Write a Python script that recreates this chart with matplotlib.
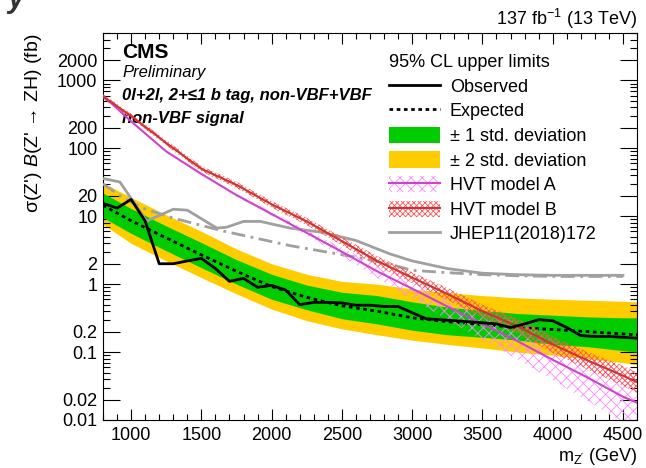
import matplotlib
matplotlib.use('Agg')
import matplotlib.pyplot as plt
from matplotlib.lines import Line2D
from matplotlib.patches import Patch
from matplotlib.ticker import FixedLocator, FuncFormatter, MultipleLocator, NullFormatter

plt.rcParams['font.family'] = ['Liberation Sans', 'DejaVu Sans']
plt.rcParams['mathtext.fontset'] = 'custom'
plt.rcParams['mathtext.rm'] = 'Liberation Sans'
plt.rcParams['mathtext.it'] = 'Liberation Sans:italic'
plt.rcParams['mathtext.bf'] = 'Liberation Sans:bold'
plt.rcParams['hatch.linewidth'] = 0.6

# observed limit (fb) vs m_Z' (GeV)
obs_mass = [800, 900, 1000, 1100, 1200, 1300, 1400, 1500, 1600, 1700, 1800, 1900, 2000, 2100,
            2200, 2300, 2400, 2500, 2600, 2700, 2800, 2900, 3000, 3100, 3200, 3300, 3400, 3500,
            3600, 3700, 3800, 3900, 4000, 4100, 4200, 4300, 4400, 4500, 4600]
obs_xs = [15.5, 13.2, 17.7, 8.5, 2.0, 2.0, 2.2, 2.4, 1.7, 1.1, 1.22, 0.9, 0.96, 0.82,
          0.50, 0.54, 0.54, 0.53, 0.49, 0.49, 0.47, 0.47, 0.38, 0.31, 0.30, 0.29, 0.28, 0.27,
          0.26, 0.23, 0.26, 0.30, 0.29, 0.23, 0.175, 0.17, 0.17, 0.165, 0.16]

# expected limit and bands, HVT predictions
grid_mass = [800, 1000, 1250, 1500, 1750, 2000, 2250, 2500, 2750, 3000, 3250, 3500, 3750,
             4000, 4250, 4500, 4600]
exp_xs = [14.5, 8.6, 4.8, 2.7, 1.55, 0.92, 0.64, 0.48, 0.40, 0.32, 0.28, 0.255, 0.23,
          0.215, 0.20, 0.185, 0.18]
g_lo = [9.6, 5.6, 3.1, 1.75, 1.0, 0.6, 0.42, 0.31, 0.26, 0.21, 0.18, 0.165, 0.15,
        0.13, 0.12, 0.105, 0.10]
g_hi = [22, 13, 7.2, 4.1, 2.3, 1.4, 0.97, 0.76, 0.68, 0.55, 0.46, 0.41, 0.37,
        0.35, 0.33, 0.32, 0.32]
y_lo = [7.6, 4.0, 2.2, 1.25, 0.72, 0.43, 0.29, 0.22, 0.18, 0.15, 0.13, 0.115, 0.10,
        0.09, 0.08, 0.07, 0.065]
y_hi = [31, 19, 10.5, 6.0, 3.3, 2.0, 1.4, 1.1, 1.0, 0.85, 0.75, 0.68, 0.63,
        0.60, 0.58, 0.56, 0.55]

hvtA = [600, 250, 90, 42, 20.5, 10.8, 5.7, 3.0, 1.55, 0.86, 0.47, 0.26, 0.145,
        0.077, 0.042, 0.022, 0.018]
hvtA_hi = [612, 255, 92.7, 43.7, 21.5, 11.6, 6.3, 3.45, 1.94, 1.2, 0.73, 0.44, 0.27,
           0.154, 0.092, 0.053, 0.045]
hvtA_lo = [588, 245, 87.4, 40.4, 19.5, 10.1, 5.2, 2.6, 1.24, 0.61, 0.30, 0.153, 0.078,
           0.0385, 0.019, 0.0092, 0.0072]
hvtB = [580, 300, 120, 50, 29, 15, 8.4, 4.3, 2.2, 1.25, 0.72, 0.40, 0.24,
        0.13, 0.075, 0.045, 0.036]
hvtB_hi = [626, 324, 131, 55, 32.2, 16.8, 9.5, 4.95, 2.6, 1.5, 0.88, 0.50, 0.31,
           0.17, 0.10, 0.063, 0.051]
hvtB_lo = [537, 278, 110, 45.5, 26.1, 13.4, 7.4, 3.74, 1.86, 1.04, 0.59, 0.32, 0.19,
           0.098, 0.055, 0.032, 0.025]

# previous result JHEP11(2018)172
old_obs_mass = [800, 920, 1110, 1300, 1400, 1610, 1680, 1800, 1920, 2130, 2360, 2600, 2840,
                3000, 3250, 3500, 3750, 4000, 4250, 4500]
old_obs_xs = [36, 32, 8.5, 12.7, 12.3, 6.7, 6.9, 8.4, 8.4, 6.7, 5.8, 4.4, 2.8,
              2.2, 1.7, 1.45, 1.38, 1.35, 1.35, 1.35]
old_exp_mass = [800, 940, 1080, 1300, 1650, 2130, 2600, 2840, 3000, 3250, 3500, 3750, 4000,
                4250, 4500]
old_exp_xs = [30, 19, 13.2, 9.4, 6.1, 3.7, 2.5, 1.97, 1.6, 1.48, 1.38, 1.33, 1.3, 1.3, 1.3]

GREEN = '#00cc00'
YELLOW = '#ffcc00'
GRAY = '#a0a0a0'
PINK = '#ff88ff'
MAGENTA = '#cc44cc'
RED_H = '#ff5555'
RED = '#cc3333'

fig = plt.figure(figsize=(6.46, 4.68), dpi=100)
ax = fig.add_axes([103 / 646, 48 / 468, 534 / 646, 387 / 468])

ax.fill_between(grid_mass, y_lo, y_hi, color=YELLOW, lw=0, zorder=1)
ax.fill_between(grid_mass, g_lo, g_hi, color=GREEN, lw=0, zorder=2)
ax.plot(grid_mass, exp_xs, color='black', lw=2, ls=(0, (1.3, 1.3)), zorder=4)

ax.plot(old_exp_mass, old_exp_xs, color=GRAY, lw=2, ls=(0, (5, 2, 1, 2)), zorder=3)
ax.plot(old_obs_mass, old_obs_xs, color=GRAY, lw=2, zorder=3)

ax.fill_between(grid_mass, hvtA_lo, hvtA_hi, facecolor='none', edgecolor=PINK,
                hatch='xxx', lw=0, zorder=5)
ax.fill_between(grid_mass, hvtB_lo, hvtB_hi, facecolor='none', edgecolor=RED_H,
                hatch='xxxxxx', lw=0, zorder=5)
ax.plot(grid_mass, hvtA, color=MAGENTA, lw=1.5, zorder=6)
ax.plot(grid_mass, hvtB, color=RED, lw=1.5, zorder=6)

ax.plot(obs_mass, obs_xs, color='black', lw=2, zorder=7)

ax.set_yscale('log')
ax.set_xlim(800, 4600)
ax.set_ylim(0.01, 5000)

ylab = [0.01, 0.02, 0.1, 0.2, 1, 2, 10, 20, 100, 200, 1000, 2000]
yminor = [m * 10.0 ** k for k in range(-2, 4) for m in range(3, 10)]
ax.yaxis.set_major_locator(FixedLocator(ylab))
ax.yaxis.set_major_formatter(FuncFormatter(lambda v, p: '%g' % v))
ax.yaxis.set_minor_locator(FixedLocator(yminor))
ax.yaxis.set_minor_formatter(NullFormatter())
ax.xaxis.set_major_locator(MultipleLocator(500))
ax.xaxis.set_minor_locator(MultipleLocator(100))

ax.tick_params(which='both', direction='in', top=True, right=True, width=0.8,
               labelsize=13)
ax.tick_params(axis='x', which='major', length=8, pad=5)
ax.tick_params(axis='x', which='minor', length=4)
ax.tick_params(axis='y', which='major', length=12, pad=4)
ax.tick_params(axis='y', which='minor', length=5)
for sp in ax.spines.values():
    sp.set_linewidth(0.8)

ax.set_ylabel("σ(Z') $B$(Z' → ZH) (fb)", fontsize=14, loc='top')
ax.yaxis.set_label_coords(-0.11, 1.0)
ax.set_xlabel("m$_{\\mathrm{Z'}}$ (GeV)", fontsize=13, loc='right')
ax.xaxis.set_label_coords(1.0, -0.068)

ax.text(0.036, 0.935, 'CMS', transform=ax.transAxes, fontsize=15, fontweight='bold',
        va='baseline')
ax.text(0.036, 0.886, 'Preliminary', transform=ax.transAxes, fontsize=12, style='italic',
        va='baseline')
ax.text(0.036, 0.827, '0l+2l, 2+≤1 b tag, non-VBF+VBF', transform=ax.transAxes,
        fontsize=12, style='italic', fontweight='bold', va='baseline')
ax.text(0.036, 0.767, 'non-VBF signal', transform=ax.transAxes, fontsize=12,
        style='italic', fontweight='bold', va='baseline')
ax.text(1.0, 1.021, '137 fb$^{-1}$ (13 TeV)', transform=ax.transAxes, fontsize=13,
        ha='right', va='baseline')
fig.text(0.012, 0.985, 'y', fontsize=22, fontweight='bold', style='italic',
         color='#333333', va='baseline')

handles = [
    Line2D([], [], color='black', lw=2),
    Line2D([], [], color='black', lw=2, ls=(0, (1.3, 1.3))),
    Patch(facecolor=GREEN, lw=0),
    Patch(facecolor=YELLOW, lw=0),
    (Patch(facecolor='none', edgecolor=PINK, hatch='xxx', lw=0), Line2D([], [], color=MAGENTA, lw=1.5)),
    (Patch(facecolor='none', edgecolor=RED_H, hatch='xxxxxx', lw=0), Line2D([], [], color=RED, lw=1.5)),
    Line2D([], [], color=GRAY, lw=2),
]
labels = ['Observed', 'Expected', '± 1 std. deviation', '± 2 std. deviation',
          'HVT model A', 'HVT model B', 'JHEP11(2018)172']
leg = ax.legend(handles, labels, title='95% CL upper limits', loc='upper left',
                bbox_to_anchor=(0.536, 0.945), frameon=False, fontsize=13,
                title_fontsize=13, alignment='left', handlelength=2.8,
                handleheight=1.0, handletextpad=0.55, labelspacing=0.35,
                borderpad=0, borderaxespad=0)

fig.savefig('out.png', dpi=100)
